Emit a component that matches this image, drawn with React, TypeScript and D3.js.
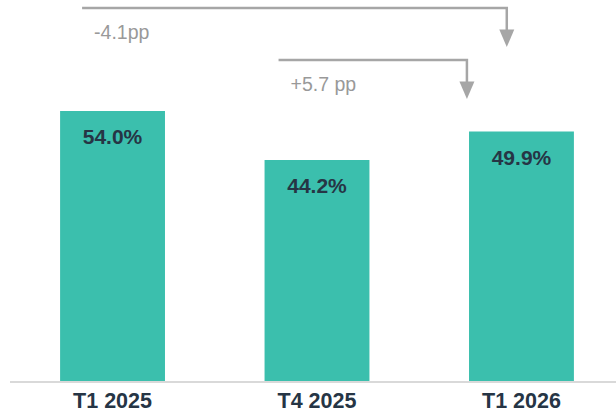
import React from "react";
import * as d3 from "d3";

const categories = ["T1 2025", "T4 2025", "T1 2026"];
const values = [54.0, 44.2, 49.9];
const valueLabels = ["54.0%", "44.2%", "49.9%"];

// annotations: from category -> to category, label
const annotations = [
  { from: "T1 2025", to: "T1 2026", label: "-4.1pp", startOff: 22, endFrac: 0.36, level: 0 },
  { from: "T4 2025", to: "T1 2026", label: "+5.7 pp", startOff: 14, endFrac: -0.02, level: 1 },
];

const W = 616;
const H = 410;
const TEAL = "#3bbfad";
const DARK = "#263545";
const GRAY = "#a6a6a6";
const FONT = "'Liberation Sans', Arial, sans-serif";

export default function App() {
  const x = d3
    .scaleBand<string>()
    .domain(categories)
    .range([10, 624])
    .paddingInner(0.487)
    .paddingOuter(0.245);
  const y = d3.scaleLinear().domain([0, 60]).range([381, 81]);
  const bw = x.bandwidth();

  const levelY = [8, 60];
  const headLen = 17.5;
  const headHalf = 7.5;

  return (
    <svg
      width={W}
      height={H}
      style={{ position: "absolute", left: 0, top: 0 }}
      fontFamily={FONT}
    >
      <rect width={W} height={H} fill="#fff" />
      {categories.map((c, i) => (
        <g key={c}>
          <rect x={x(c)} y={y(values[i])} width={bw} height={y(0) - y(values[i])} fill={TEAL} />
          <text
            x={(x(c) as number) + bw / 2}
            y={y(values[i]) + 33}
            textAnchor="middle"
            fontSize={21}
            fontWeight="bold"
            fill={DARK}
          >
            {valueLabels[i]}
          </text>
          <text
            x={(x(c) as number) + bw / 2}
            y={407.5}
            textAnchor="middle"
            fontSize={21.5}
            fontWeight="bold"
            fill={DARK}
          >
            {c}
          </text>
        </g>
      ))}
      <line x1={10} x2={W} y1={382} y2={382} stroke="#d9d9d9" strokeWidth={2} />
      {annotations.map((a) => {
        const x0 = (x(a.from) as number) + a.startOff;
        const x1 = (x(a.to) as number) + bw * a.endFrac;
        const ly = levelY[a.level];
        const tipY = ly + 39;
        const baseY = tipY - headLen;
        return (
          <g key={a.label}>
            <path
              d={`M${x0},${ly} H${x1} V${baseY + 1}`}
              fill="none"
              stroke={GRAY}
              strokeWidth={2.5}
            />
            <path
              d={`M${x1 - headHalf},${baseY} L${x1 + headHalf},${baseY} L${x1},${tipY} Z`}
              fill={GRAY}
            />
            <text x={x0 + 12} y={ly + 31} fontSize={19.5} fill="#999999">
              {a.label}
            </text>
          </g>
        );
      })}
    </svg>
  );
}
